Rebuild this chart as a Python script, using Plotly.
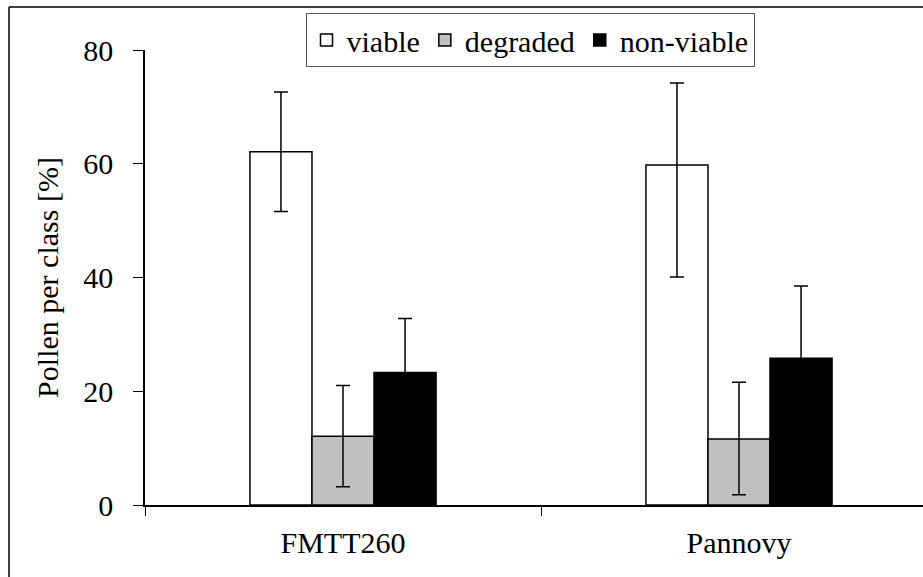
import plotly.graph_objects as go

# Pollen viability classes per cultivar (mean % with error)
cultivars = ["FMTT260", "Pannovy"]
classes = ["viable", "degraded", "non-viable"]
means = {
    "viable": [62.1, 59.8],
    "degraded": [12.1, 11.6],
    "non-viable": [23.3, 25.8],
}
err_plus = {
    "viable": [10.5, 14.4],
    "degraded": [8.9, 10.0],
    "non-viable": [9.5, 12.7],
}
err_minus = {
    "viable": [10.5, 19.7],
    "degraded": [8.9, 9.8],
    "non-viable": [9.5, 12.7],
}
fills = {"viable": "#FFFFFF", "degraded": "#C0C0C0", "non-viable": "#000000"}
y_ticks = [0, 20, 40, 60, 80]

FONT = "Liberation Serif"
FS = 30

fig = go.Figure()
for c in classes:
    fig.add_trace(go.Bar(
        name=c,
        x=cultivars,
        y=means[c],
        marker=dict(color=fills[c], line=dict(color="#000000", width=1.5)),
        error_y=dict(type="data", symmetric=False, array=err_plus[c],
                     arrayminus=err_minus[c], color="#000000",
                     thickness=1.5, width=7),
    ))

W, H = 923, 577
ml, mr, mt, mb = 145, 0, 50, 72
plot_w = W - ml - mr
plot_h = H - mt - mb
cat_px = 396.0
x_end = -0.5 + plot_w / cat_px

# outer chart-area frame (left and top edges visible)
px_left, px_top = 9, 7
fx = (px_left - ml) / plot_w
fy = (H - mb - px_top) / plot_h
fig.add_shape(type="line", xref="paper", yref="paper",
              x0=fx, x1=1.05, y0=fy, y1=fy, line=dict(color="#000000", width=1.5))
fig.add_shape(type="line", xref="paper", yref="paper",
              x0=fx, x1=fx, y0=fy, y1=-0.3, line=dict(color="#000000", width=1.5))

fig.update_layout(
    width=W, height=H,
    margin=dict(l=ml, r=mr, t=mt, b=mb, pad=0),
    paper_bgcolor="#FFFFFF", plot_bgcolor="#FFFFFF",
    barmode="group", bargap=0.53, bargroupgap=0,
    font=dict(family=FONT, size=FS, color="#000000"),
    showlegend=True,
    legend=dict(orientation="h", x=(530 - ml) / plot_w, xanchor="center",
                y=(H - mb - 13) / plot_h, yanchor="top",
                bordercolor="#555555", borderwidth=1, bgcolor="#FFFFFF",
                font=dict(family=FONT, size=FS), itemwidth=30,
                tracegroupgap=0),
    xaxis=dict(type="category", range=[-0.5, x_end], tickson="boundaries",
               ticks="outside", ticklen=9, tickcolor="#000000",
               showline=True, linecolor="#000000", linewidth=1.5,
               showgrid=False, zeroline=False, ticklabelstandoff=10,
               tickfont=dict(family=FONT, size=FS)),
    yaxis=dict(range=[0, 80], tickvals=y_ticks, ticks="outside", ticklen=10,
               tickcolor="#000000", showline=True, linecolor="#000000",
               linewidth=1.5, showgrid=False, zeroline=False,
               ticklabelstandoff=14,
               tickfont=dict(family=FONT, size=FS),
               title=dict(text="Pollen per class [%]", standoff=16,
                          font=dict(family=FONT, size=FS))),
)

fig.write_html("out.html")
